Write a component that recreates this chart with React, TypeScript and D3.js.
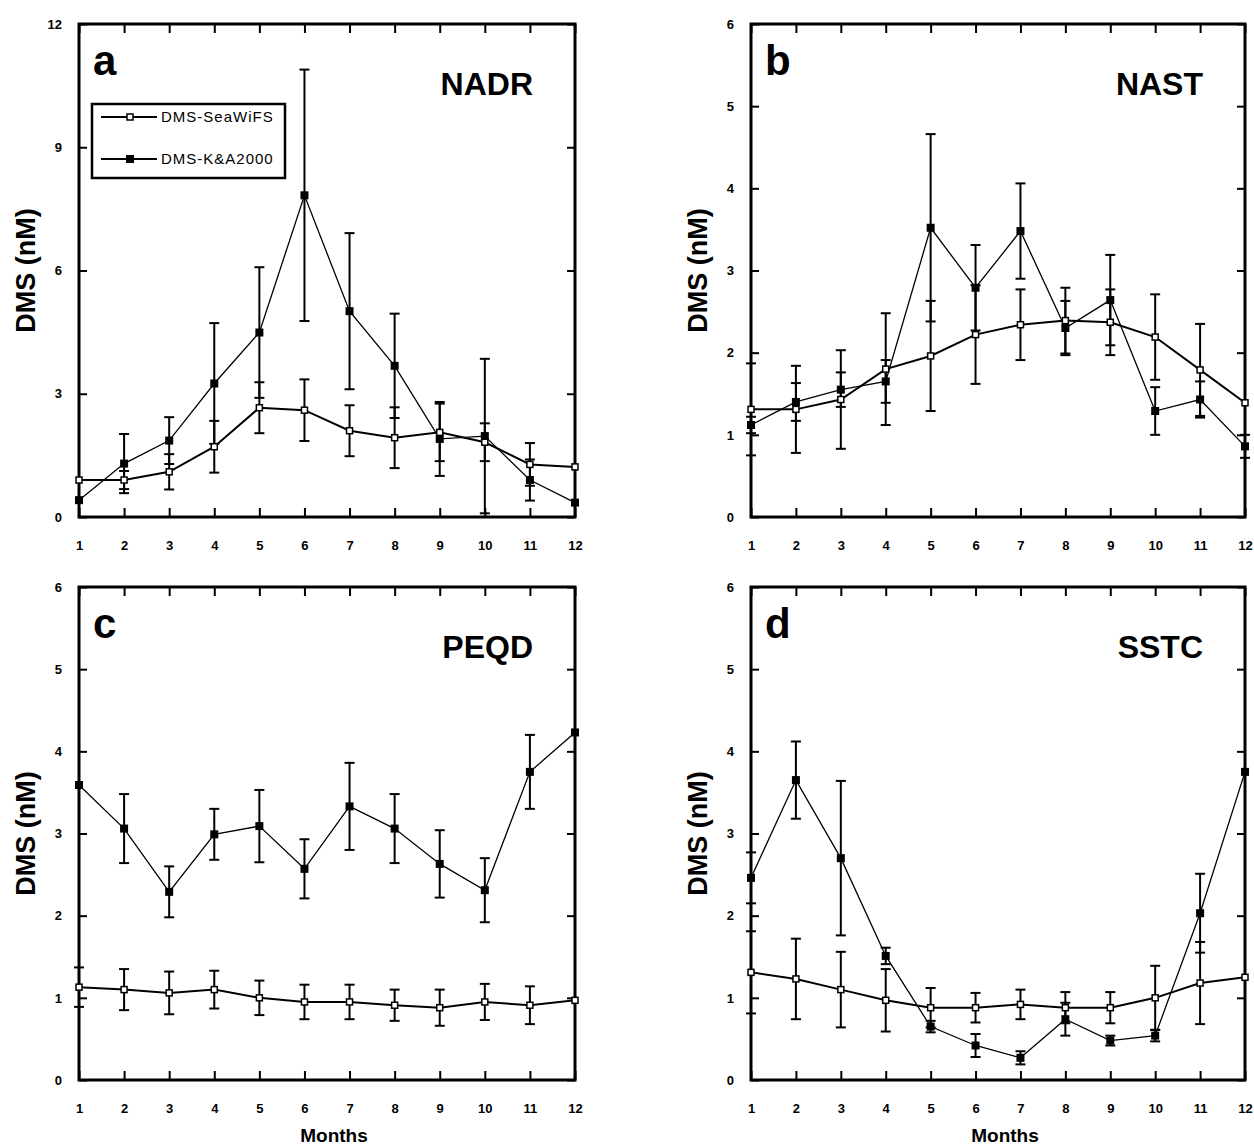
import React, { useEffect, useRef } from "react";
import * as d3 from "d3";

const width = 1254;
const height = 1146;

const months = [1, 2, 3, 4, 5, 6, 7, 8, 9, 10, 11, 12];
const seriesNames = ["DMS-SeaWiFS", "DMS-K&A2000"];

// NADR
const nadrSW = [0.9, 0.9, 1.1, 1.71, 2.66, 2.6, 2.1, 1.93, 2.06, 1.82, 1.28, 1.22];
const nadrSWErr = [0, 0.22, 0.43, 0.63, 0.62, 0.75, 0.62, 0.74, 0.7, 0.46, 0.52, 0];
const nadrKA = [0.41, 1.3, 1.86, 3.25, 4.49, 7.83, 5.01, 3.68, 1.9, 1.97, 0.9, 0.35];
const nadrKAErr = [0, 0.72, 0.57, 1.47, 1.59, 3.06, 1.9, 1.27, 0.9, 1.88, 0.5, 0];

// NAST
const nastSW = [1.31, 1.31, 1.43, 1.8, 1.96, 2.22, 2.34, 2.39, 2.37, 2.19, 1.79, 1.39];
const nastSWErr = [0.56, 0.53, 0.6, 0.68, 0.67, 0.6, 0.43, 0.4, 0.4, 0.52, 0.56, 0];
const nastKA = [1.12, 1.4, 1.55, 1.65, 3.52, 2.79, 3.48, 2.3, 2.64, 1.29, 1.43, 0.86];
const nastKAErr = [0.1, 0.23, 0.21, 0.26, 1.14, 0.52, 0.58, 0.33, 0.55, 0.29, 0.22, 0.14];

// PEQD
const peqdSW = [1.13, 1.1, 1.06, 1.1, 1.0, 0.95, 0.95, 0.91, 0.88, 0.95, 0.91, 0.97];
const peqdSWErr = [0.24, 0.25, 0.26, 0.23, 0.21, 0.21, 0.21, 0.19, 0.22, 0.22, 0.23, 0];
const peqdKA = [3.59, 3.06, 2.29, 2.99, 3.09, 2.57, 3.33, 3.06, 2.63, 2.31, 3.75, 4.23];
const peqdKAErr = [0, 0.42, 0.31, 0.31, 0.44, 0.36, 0.53, 0.42, 0.41, 0.39, 0.45, 0];

// SSTC
const sstcSW = [1.31, 1.23, 1.1, 0.97, 0.88, 0.88, 0.92, 0.88, 0.88, 1.0, 1.18, 1.25];
const sstcSWErr = [0.5, 0.49, 0.46, 0.38, 0.24, 0.18, 0.18, 0.19, 0.19, 0.39, 0.5, 0];
const sstcKA = [2.46, 3.65, 2.7, 1.51, 0.65, 0.42, 0.27, 0.74, 0.48, 0.54, 2.03, 3.75];
const sstcKAErr = [0.31, 0.47, 0.94, 0.1, 0.07, 0.14, 0.08, 0.2, 0.06, 0.07, 0.48, 0];

const panels = [
  { letter: "a", name: "NADR", yMax: 12, yTicks: [0, 3, 6, 9, 12], sw: nadrSW, swErr: nadrSWErr, ka: nadrKA, kaErr: nadrKAErr },
  { letter: "b", name: "NAST", yMax: 6, yTicks: [0, 1, 2, 3, 4, 5, 6], sw: nastSW, swErr: nastSWErr, ka: nastKA, kaErr: nastKAErr },
  { letter: "c", name: "PEQD", yMax: 6, yTicks: [0, 1, 2, 3, 4, 5, 6], sw: peqdSW, swErr: peqdSWErr, ka: peqdKA, kaErr: peqdKAErr },
  { letter: "d", name: "SSTC", yMax: 6, yTicks: [0, 1, 2, 3, 4, 5, 6], sw: sstcSW, swErr: sstcSWErr, ka: sstcKA, kaErr: sstcKAErr },
];

// frame boxes for the four panels
const boxes = [
  { x0: 79, x1: 575, y0: 24, y1: 517 },
  { x0: 751, x1: 1245, y0: 24, y1: 517 },
  { x0: 79, x1: 575, y0: 587, y1: 1080 },
  { x0: 751, x1: 1245, y0: 587, y1: 1080 },
];

const font = "Arial, 'Liberation Sans', sans-serif";

const App = () => {
  const ref = useRef<SVGSVGElement>(null);

  useEffect(() => {
    const svg = d3.select(ref.current);
    svg.selectAll("*").remove();
    svg.append("rect").attr("width", width).attr("height", height).attr("fill", "#fff");

    panels.forEach((p, i) => {
      const b = boxes[i];
      const x = d3.scaleLinear().domain([1, 12]).range([b.x0, b.x1]);
      const y = d3.scaleLinear().domain([0, p.yMax]).range([b.y1, b.y0]);
      const g = svg.append("g");

      const styleAxis = (ax: any) => {
        ax.select(".domain").remove();
        ax.selectAll(".tick line").attr("stroke", "#000").attr("stroke-width", 2);
        ax.selectAll("text")
          .attr("fill", "#000")
          .attr("font-size", 13)
          .attr("font-weight", "bold")
          .attr("font-family", font);
      };

      g.append("g")
        .attr("transform", `translate(0,${b.y1})`)
        .call(d3.axisBottom(x).tickValues(months).tickSize(-9).tickPadding(24).tickFormat(d3.format("d")))
        .call(styleAxis);
      g.append("g")
        .attr("transform", `translate(0,${b.y0})`)
        .call(d3.axisTop(x).tickValues(months).tickSize(-9).tickFormat(() => ""))
        .call(styleAxis);
      g.append("g")
        .attr("transform", `translate(${b.x0},0)`)
        .call(d3.axisLeft(y).tickValues(p.yTicks).tickSize(-8).tickPadding(17).tickFormat(d3.format("d")))
        .call(styleAxis);
      g.append("g")
        .attr("transform", `translate(${b.x1},0)`)
        .call(d3.axisRight(y).tickValues(p.yTicks).tickSize(-8).tickFormat(() => ""))
        .call(styleAxis);

      g.append("rect")
        .attr("x", b.x0)
        .attr("y", b.y0)
        .attr("width", b.x1 - b.x0)
        .attr("height", b.y1 - b.y0)
        .attr("fill", "none")
        .attr("stroke", "#000")
        .attr("stroke-width", 3);

      const line = d3
        .line<number>()
        .x((_, j) => x(months[j]))
        .y((d) => y(d));

      g.append("path").attr("d", line(p.ka)).attr("fill", "none").attr("stroke", "#000").attr("stroke-width", 1.3);
      g.append("path").attr("d", line(p.sw)).attr("fill", "none").attr("stroke", "#000").attr("stroke-width", 2);

      const errs = [
        ...months.map((m, j) => ({ m, v: p.sw[j], e: p.swErr[j] })),
        ...months.map((m, j) => ({ m, v: p.ka[j], e: p.kaErr[j] })),
      ].filter((d) => d.e > 0);

      const eb = g.append("g").attr("stroke", "#000").attr("stroke-width", 2);
      eb.selectAll(".bar")
        .data(errs)
        .join("line")
        .attr("x1", (d) => x(d.m))
        .attr("x2", (d) => x(d.m))
        .attr("y1", (d) => y(d.v - d.e))
        .attr("y2", (d) => y(d.v + d.e));
      eb.selectAll(".capT")
        .data(errs)
        .join("line")
        .attr("x1", (d) => x(d.m) - 5)
        .attr("x2", (d) => x(d.m) + 5)
        .attr("y1", (d) => y(d.v + d.e))
        .attr("y2", (d) => y(d.v + d.e));
      eb.selectAll(".capB")
        .data(errs)
        .join("line")
        .attr("x1", (d) => x(d.m) - 5)
        .attr("x2", (d) => x(d.m) + 5)
        .attr("y1", (d) => y(d.v - d.e))
        .attr("y2", (d) => y(d.v - d.e));

      g.append("g")
        .selectAll("rect")
        .data(p.ka)
        .join("rect")
        .attr("x", (_, j) => x(months[j]) - 4)
        .attr("y", (d) => y(d) - 4)
        .attr("width", 8)
        .attr("height", 8)
        .attr("fill", "#000");
      g.append("g")
        .selectAll("rect")
        .data(p.sw)
        .join("rect")
        .attr("x", (_, j) => x(months[j]) - 3)
        .attr("y", (d) => y(d) - 3)
        .attr("width", 6)
        .attr("height", 6)
        .attr("fill", "#fff")
        .attr("stroke", "#000")
        .attr("stroke-width", 1.5);

      g.append("text")
        .attr("x", b.x0 + 14)
        .attr("y", b.y0 + 51)
        .attr("font-size", 42)
        .attr("font-weight", "bold")
        .attr("font-family", font)
        .text(p.letter);
      g.append("text")
        .attr("x", b.x1 - 42)
        .attr("y", b.y0 + 71)
        .attr("text-anchor", "end")
        .attr("font-size", 32)
        .attr("font-weight", "bold")
        .attr("font-family", font)
        .text(p.name);

      g.append("text")
        .attr("transform", `translate(${b.x0 - 44},${(b.y0 + b.y1) / 2}) rotate(-90)`)
        .attr("text-anchor", "middle")
        .attr("font-size", 27)
        .attr("font-weight", "bold")
        .attr("font-family", font)
        .text("DMS (nM)");

      if (i >= 2) {
        g.append("text")
          .attr("x", (b.x0 + b.x1) / 2 + 7)
          .attr("y", b.y1 + 62)
          .attr("text-anchor", "middle")
          .attr("font-size", 19)
          .attr("font-weight", "bold")
          .attr("font-family", font)
          .text("Months");
      }

      if (i === 0) {
        const lg = g.append("g");
        lg.append("rect")
          .attr("x", 92)
          .attr("y", 104)
          .attr("width", 193)
          .attr("height", 74)
          .attr("fill", "#fff")
          .attr("stroke", "#000")
          .attr("stroke-width", 2.5);
        seriesNames.forEach((name, k) => {
          const ly = 117 + k * 42;
          lg.append("line").attr("x1", 101).attr("x2", 157).attr("y1", ly).attr("y2", ly).attr("stroke", "#000").attr("stroke-width", 2);
          if (k === 0) {
            lg.append("rect").attr("x", 127).attr("y", ly - 3).attr("width", 6).attr("height", 6).attr("fill", "#fff").attr("stroke", "#000").attr("stroke-width", 1.5);
          } else {
            lg.append("rect").attr("x", 126).attr("y", ly - 4).attr("width", 8).attr("height", 8).attr("fill", "#000");
          }
          lg.append("text")
            .attr("x", 161)
            .attr("y", ly + 5)
            .attr("font-size", 15)
            .attr("letter-spacing", 1)
            .attr("font-family", font)
            .text(name);
        });
      }
    });
  }, []);

  return (
    <svg
      ref={ref}
      width={width}
      height={height}
      style={{ position: "absolute", left: 0, top: 0, display: "block" }}
    />
  );
};

export default App;
